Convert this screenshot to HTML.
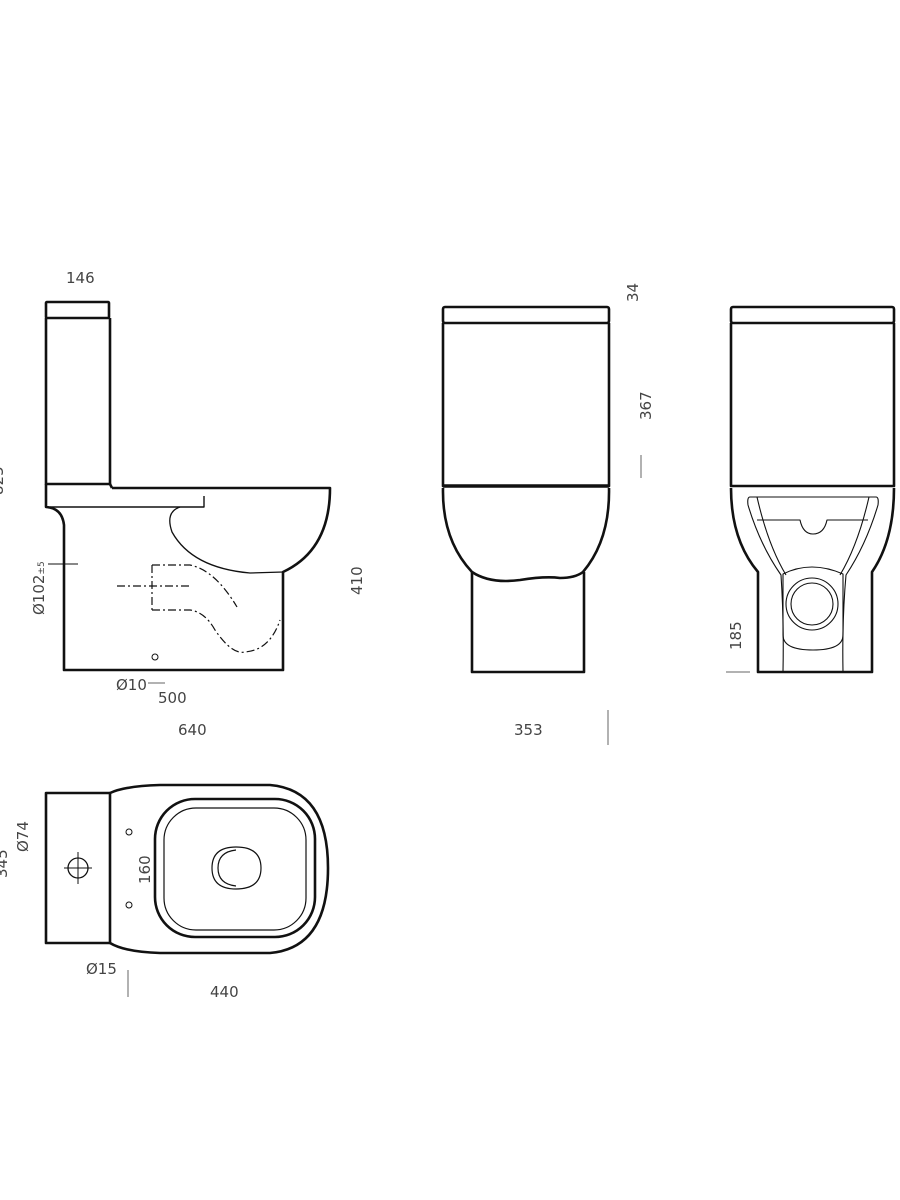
<!DOCTYPE html>
<html><head><meta charset="utf-8"><style>
html,body{margin:0;padding:0;background:#fff;}
svg{display:block;}
text{font-family:"DejaVu Sans","Liberation Sans",sans-serif;font-size:15px;fill:#444;}
</style></head><body>
<svg width="900" height="1200" viewBox="0 0 900 1200" xmlns="http://www.w3.org/2000/svg">
<g fill="none" stroke="#111" stroke-width="2.6" stroke-linejoin="round">
<!-- SIDE VIEW -->
<rect x="46" y="302" width="63" height="16" rx="1"/>
<path d="M46 318 V484 H110 V318"/>
<path d="M46 484 V507 Q62 508 64 525 V670 H283 V572 Q330 550 330 488 H112"/>
<path d="M110 484 L112 488"/>
<path d="M50 507 H204 V496" stroke-width="1.4"/>
<path d="M180 507 Q165 512 172 532 Q192 568 250 573 L283 572" stroke-width="1.3"/>
<g stroke-width="1.2" stroke-dasharray="8 3 2 3">
<path d="M152 565 V610 M152 565 H190 Q215 570 237 607 M152 610 H190 Q205 612 215 630 Q232 655 245 652 Q270 650 280 620"/>
<path d="M117 586 H192"/>
</g>
<circle cx="155" cy="657" r="3" stroke-width="1"/>
<path d="M48 564 H78" stroke-width="1"/>
<!-- FRONT VIEW -->
<rect x="443" y="307" width="166" height="16" rx="2"/>
<path d="M443 323 V486 H609 V323"/>
<path d="M443 486 H609" stroke-width="3.5"/>
<path d="M443 488 Q442 540 472 572 Q490 584 520 580 Q545 576 560 578 Q575 578 583 572 Q610 540 609 488"/>
<path d="M472 572 V672 H584 V572"/>
<!-- BACK VIEW -->
<rect x="731" y="307" width="163" height="16" rx="2"/>
<path d="M731 323 V486 H894 V323"/>
<path d="M731 488 Q731 540 758 572 V672 H872 V572 Q894 540 894 488"/>
<g stroke-width="1.1">
<path d="M750 497 Q747 497 748 505 Q760 545 781 575 Q784 620 783 672"/>
<path d="M876 497 Q879 497 878 505 Q866 545 846 575 Q842 620 843 672"/>
<path d="M750 497 H876"/>
<path d="M757 497 Q768 545 786 575 M869 497 Q858 545 840 575"/>
<path d="M757 520 H800 Q803 534 813 534 Q824 534 827 520 H868"/>
<path d="M783 574 Q811 560 843 574 V635 Q843 650 813 650 Q783 650 783 635 Z"/>
<circle cx="812" cy="604" r="26"/>
<circle cx="812" cy="604" r="21"/>
</g>
<!-- TOP VIEW -->
<rect x="46" y="793" width="64" height="150"/>
<path d="M110 793 Q125 786 160 785 H270 Q328 790 328 868 Q328 948 270 953 H160 Q125 952 110 943"/>
<rect x="155" y="799" width="160" height="138" rx="40"/>
<rect x="164" y="808" width="142" height="122" rx="32" stroke-width="1.2"/>
<path d="M236 847 Q212 847 212 868 Q212 889 236 889 Q261 889 261 868 Q261 847 236 847 Z" stroke-width="1.2"/>
<path d="M236 850 Q218 852 218 868 Q218 884 236 886" stroke-width="1.2"/>
<circle cx="129" cy="832" r="3" stroke-width="1"/>
<circle cx="129" cy="905" r="3" stroke-width="1"/>
<circle cx="78" cy="868" r="10" stroke-width="1.3"/>
<path d="M64 868 H92 M78 852 V884" stroke-width="1"/>
</g>
<g stroke="#666" stroke-width="1" fill="none">
<path d="M641 455 V478"/>
<path d="M608 710 V745"/>
<path d="M726 672 H750"/>
<path d="M128 970 V997"/>
<path d="M148 683 H165"/>
</g>
<text x="66" y="283">146</text>
<text x="178" y="735">640</text>
<text x="158" y="703">500</text>
<text x="116" y="690">Ø10</text>
<text x="514" y="735">353</text>
<text x="86" y="974">Ø15</text>
<text x="210" y="997">440</text>
<text transform="translate(44,615) rotate(-90)">Ø102<tspan font-size="9">±5</tspan></text>
<text transform="translate(362,595) rotate(-90)">410</text>
<text transform="translate(638,302) rotate(-90)">34</text>
<text transform="translate(651,420) rotate(-90)">367</text>
<text transform="translate(741,650) rotate(-90)">185</text>
<text transform="translate(150,884) rotate(-90)">160</text>
<text transform="translate(28,852) rotate(-90)">Ø74</text>
<text transform="translate(7,878) rotate(-90)">345</text>
<text transform="translate(3,495) rotate(-90)">825</text>
</svg>
</body></html>
